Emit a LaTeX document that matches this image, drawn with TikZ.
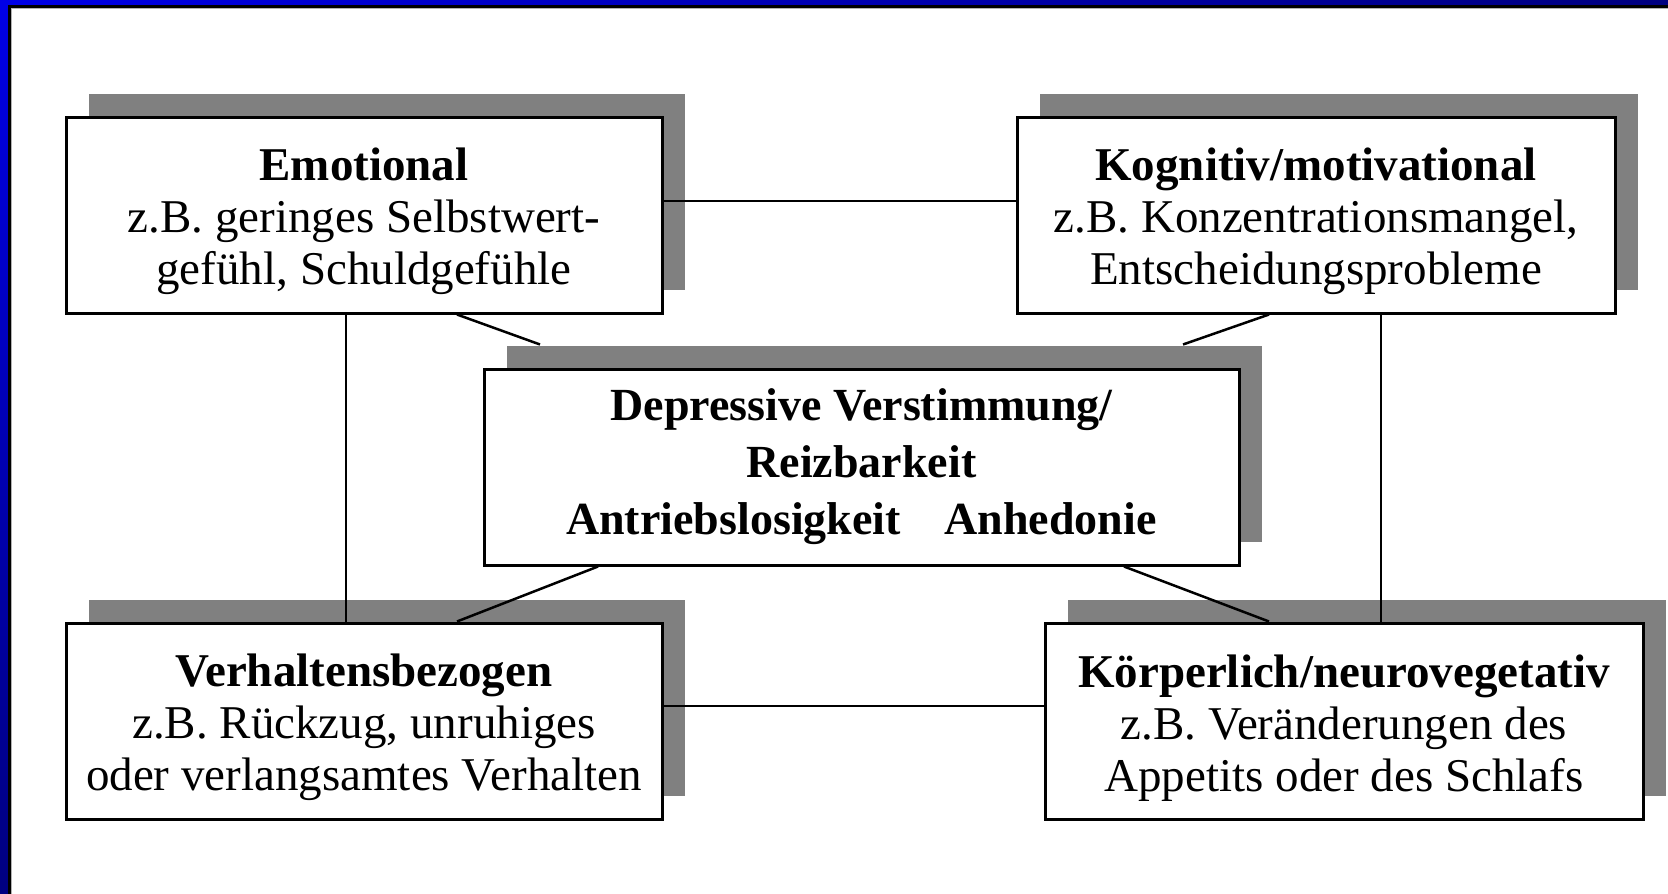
\documentclass[tikz,border=0pt]{standalone}
\usepackage{fontspec}
\setmainfont{Liberation Serif}
\usetikzlibrary{positioning,shadows}
\definecolor{frameblue}{RGB}{0,0,230}
\definecolor{framenavy}{RGB}{0,0,128}
\definecolor{shadowgray}{RGB}{128,128,128}
\newcommand{\topgap}{\rule{0pt}{46pt}}
\tikzset{%
  % Specifications for style of nodes:
      base/.style = {rectangle, draw=black, line width=3pt, fill=white,
                     minimum height=196pt, inner sep=0pt, align=center,
                     font=\fontsize{47}{52}\selectfont,
                     drop shadow={shadow xshift=23pt, shadow yshift=23pt,
                                  fill=shadowgray, opacity=1}},
   sidebox/.style = {base, minimum width=596pt},
   mainbox/.style = {base, minimum width=755pt,
                     font=\fontsize{46}{57}\selectfont\bfseries},
      link/.style = {draw=black, line width=2.5pt}
}
\begin{document}
\begin{tikzpicture}
  \useasboundingbox (0,0) rectangle (1668pt,-894pt);
  % frame (top and left edge only)
  \fill[left color=frameblue, right color=framenavy] (0,0) rectangle (1668pt,-5pt);
  \fill[top color=frameblue, bottom color=framenavy] (0,0) rectangle (8pt,-894pt);
  \fill[black] (8pt,-5pt) rectangle (1668pt,-8pt);
  \fill[black] (8pt,-5pt) rectangle (10.5pt,-894pt);
  \fill[gray!60] (10.5pt,-8pt) rectangle (1668pt,-9pt);
  \fill[gray!60] (10.5pt,-8pt) rectangle (11.5pt,-894pt);

  % Specification of nodes (position, etc.)
  \node (emo)   [sidebox] at (364pt,-215pt)
        {\topgap\textbf{Emotional}\\z.B. geringes Selbstwert-\\gefühl, Schuldgefühle};
  \node (kog)   [sidebox, right=352pt of emo, minimum width=598pt]
        {\topgap\textbf{Kognitiv/motivational}\\z.B. Konzentrationsmangel,\\Entscheidungsprobleme};
  \node (verh)  [sidebox, below=307pt of emo]
        {\topgap\textbf{Verhaltensbezogen}\\z.B. Rückzug, unruhiges\\oder verlangsamtes Verhalten};
  \node (koerp) [sidebox, right=380pt of verh, minimum width=598pt]
        {\topgap\textbf{Körperlich/neurovegetativ}\\z.B. Veränderungen des\\Appetits oder des Schlafs};
  \node (mid)   [mainbox] at (861.5pt,-467pt)
        {Depressive Verstimmung/\\Reizbarkeit\\Antriebslosigkeit\hspace{0.7em} Anhedonie};

  % connections
  \draw[link] ([yshift=14pt]emo.east) -- ([yshift=14pt]kog.west);
  \draw[link] ([yshift=15pt]verh.east) -- ([yshift=15pt]koerp.west);
  \draw[link] ([xshift=-18pt]emo.south) -- ([xshift=-18pt]verh.north);
  \draw[link] ([xshift=65pt]kog.south) -- ([xshift=37pt]koerp.north);
  \draw[link] ([xshift=93pt]emo.south) -- ([xshift=-321.5pt,yshift=23pt]mid.north);
  \draw[link] ([xshift=-47pt]kog.south) -- ([xshift=321.5pt,yshift=23pt]mid.north);
  \draw[link] ([xshift=-263.5pt]mid.south) -- ([xshift=93pt]verh.north);
  \draw[link] ([xshift=262.5pt]mid.south) -- ([xshift=-75pt]koerp.north);
\end{tikzpicture}
\end{document}
